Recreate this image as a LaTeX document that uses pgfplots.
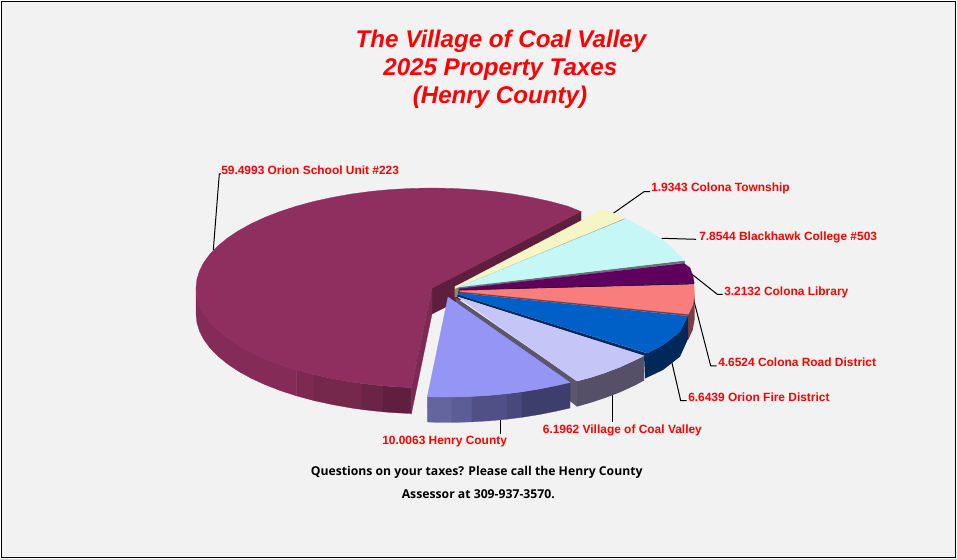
\documentclass[border=0pt]{standalone}
\usepackage{pgfplots}
\usepackage{fontspec}
\setmainfont{Liberation Sans}
\newfontfamily\notefont{Open Sans}
\pgfplotsset{compat=1.18}
\definecolor{bgc}{HTML}{F2F2F2}
\definecolor{labc}{HTML}{FF0000}
\definecolor{orion}{HTML}{8F2F5F}
\definecolor{orioncut}{HTML}{5E1E3E}
\definecolor{ora}{HTML}{842B57}
\definecolor{orb}{HTML}{7D2952}
\definecolor{orc}{HTML}{75274C}
\definecolor{ord}{HTML}{6B2346}
\definecolor{ore}{HTML}{601F3F}
\definecolor{orf}{HTML}{7C2A52}
\definecolor{yel}{HTML}{F5F5C5}
\definecolor{cya}{HTML}{C5F7F7}
\definecolor{pur}{HTML}{5F005F}
\definecolor{sal}{HTML}{FA7D7D}
\definecolor{blu}{HTML}{0060C8}
\definecolor{lav}{HTML}{C5C5F8}
\definecolor{hen}{HTML}{9595F5}
\definecolor{olive}{HTML}{8A8A78}
\definecolor{steel}{HTML}{687078}
\definecolor{darkp}{HTML}{3A0A3A}
\definecolor{brownr}{HTML}{7A3F42}
\definecolor{navy}{HTML}{002858}
\definecolor{lavs}{HTML}{555068}
\definecolor{lavc}{HTML}{5A566E}
\definecolor{hea}{HTML}{64649E}
\definecolor{heb}{HTML}{5C5C96}
\definecolor{hec}{HTML}{505086}
\definecolor{hed}{HTML}{48487A}
\definecolor{hee}{HTML}{3E3E6C}
\pgfplotsset{
  face/.style={fill=#1,draw=#1,line width=0.2pt,mark=none,forget plot},
  flat/.style={fill=#1,draw=none,mark=none,forget plot},
  lead/.style={draw=black,line width=0.75pt,mark=none,forget plot,line join=miter},
}
\newcommand{\lab}[3]{\node[anchor=base west,inner sep=0,text=labc,font=\fontsize{8.95}{11}\selectfont\bfseries] at (axis cs:#1,#2) {#3};}
\begin{document}
\begin{tikzpicture}
\begin{axis}[
  scale only axis,width=717.75pt,height=419.25pt,
  xmin=0,xmax=957,ymin=0,ymax=559,y dir=reverse,
  axis lines=none,clip=false,
]
% page and frame
\addplot[flat=white] coordinates {(0,0)(957,0)(957,559)(0,559)} --cycle;
\addplot[fill=bgc,draw=black,line width=0.8pt,mark=none,forget plot] coordinates {(1.5,1.5)(955.5,1.5)(955.5,557.5)(1.5,557.5)} --cycle;

% Orion School Unit: cut faces
\addplot[face=orioncut] coordinates {(432,288)(581,211.5)(581,238)(432,314)} --cycle;
\addplot[face=orf] coordinates {(432,288)(411.4,387.6)(411.4,413.6)(432,314)} --cycle;
% Orion side, stepped shades
\addplot[face=ora] coordinates {(196,288)(196.9,296.7)(199.6,305.4)(204,313.9)(210.2,322.2)(218.1,330.3)(227.6,338)(238.7,345.4)(251.2,352.3)(265.1,358.7)(280.3,364.6)(296.6,369.9)(296.6,395.9)(280.3,390.6)(265.1,384.7)(251.2,378.3)(238.7,371.4)(227.6,364)(218.1,356.3)(210.2,348.2)(204,339.9)(199.6,331.4)(196.9,322.7)(196,314)} --cycle;
\addplot[face=orb] coordinates {(296.6,369.9)(314,374.6)(314,400.6)(296.6,395.9)} --cycle;
\addplot[face=orc] coordinates {(314,374.6)(332.3,378.6)(351.3,382)(362,383.5)(362,409.5)(351.3,408)(332.3,404.6)(314,400.6)} --cycle;
\addplot[face=ord] coordinates {(362,383.5)(370.9,384.6)(383,385.8)(383,411.8)(370.9,410.6)(362,409.5)} --cycle;
\addplot[face=ore] coordinates {(383,385.8)(391,386.5)(411.4,387.6)(411.4,413.6)(391,412.5)(383,411.8)} --cycle;
% Orion top face
\addplot[face=orion] coordinates {(432,288)(411.4,387.6)(391,386.5)(370.9,384.6)(351.3,382)(332.3,378.6)(314,374.6)(296.6,369.9)(280.3,364.6)(265.1,358.7)(251.2,352.3)(238.7,345.4)(227.6,338)(218.1,330.3)(210.2,322.2)(204,313.9)(199.6,305.4)(196.9,296.7)(196,288)(196.9,279.3)(199.6,270.6)(204,262.1)(210.2,253.8)(218.1,245.7)(227.6,238)(238.7,230.6)(251.2,223.7)(265.1,217.3)(280.3,211.4)(296.6,206.1)(314,201.4)(332.3,197.4)(351.3,194)(370.9,191.4)(391,189.5)(411.4,188.4)(432,188)(452.6,188.4)(473,189.5)(493.1,191.4)(512.7,194)(531.7,197.4)(550,201.4)(567.4,206.1)(581,211.5)} --cycle;

% leader lines
\addplot[lead] coordinates {(213.3,250)(219.3,174)(221,174)};
\addplot[lead] coordinates {(613.3,213.3)(644,191.7)(650,191.7)};
\addplot[lead] coordinates {(661.7,238.3)(696,239.3)};
\addplot[lead] coordinates {(690,272.7)(717.3,294.3)(722.7,294.3)};
\addplot[lead] coordinates {(693.3,298.3)(710.7,366)(716.7,366)};
\addplot[lead] coordinates {(671.7,361.7)(680.7,400.7)(686.7,400.7)};
\addplot[lead] coordinates {(612.3,394)(612.3,421.7)};
\addplot[lead] coordinates {(500.3,419.3)(500.3,434)};

% centre strip
\addplot[flat=olive] coordinates {(454.5,286)(458,285)(458,297)(454.5,297)} --cycle;

% Colona Road District side
\addplot[flat=brownr] coordinates {(688,315)(692.7,305)(694.5,295)(694.5,320)(692.7,330)(688,340)} --cycle;
% Orion Fire District side
\addplot[flat=navy] coordinates {(688,315)(680,331.7)(663,345)(647,353.3)(644,355.5)(645,378.5)(663,370)(680,356.7)(688,339)} --cycle;
% Village of Coal Valley side and cut face
\addplot[flat=lavs] coordinates {(576.7,381.4)(590,377.7)(605,372.8)(620,367.1)(635,360.2)(644,355.3)(644,380.5)(635,385.4)(620,392.3)(605,398)(590,402.9)(576.7,406.7)} --cycle;
\addplot[flat=lavc] coordinates {(455,297)(577,381)(577,406.5)(460,318)} --cycle;

% grey strip under the yellow slice, and under the cyan slice
\addplot[flat=olive] coordinates {(624.3,218.3)(625.5,220)(458,291)(455,288.5)} --cycle;
\addplot[flat=steel] coordinates {(684.3,260.5)(685,262.8)(459,289.2)(459,287)} --cycle;

% top faces of the small slices
\addplot[face=yel] coordinates {(455,286.7)(603,209.3)(612,212.5)(624.3,218.3)(455,288.5)} --cycle;
\addplot[face=cya] coordinates {(459.3,287)(626,218.7)(640,226.5)(650,232)(662,239.5)(673,249)(684,260.5)} --cycle;
\addplot[face=pur] coordinates {(458.3,289)(684,263.3)(690,268)(693,276)(694.3,283.3)(460,290)} --cycle;
\addplot[flat=darkp] coordinates {(460,289.6)(693.8,283)(694,284.6)(460,290.8)} --cycle;
\addplot[flat=brownr] coordinates {(460,291)(688.3,313.5)(688.3,315.9)(459.3,292.9)} --cycle;
\addplot[face=sal] coordinates {(460,290.7)(693.8,284.6)(694.5,295)(692.7,305)(688.3,314.2)(460,291.5)} --cycle;
\addplot[flat=navy] coordinates {(458,294.5)(647,353.3)(644,355.9)(457,296.5)} --cycle;
\addplot[face=blu] coordinates {(459,293)(687.7,316)(680,331.7)(663,345)(647.3,353.1)(458,294.5)} --cycle;
\addplot[face=lav] coordinates {(458,297)(644,355.8)(635,360.2)(620,367.1)(605,372.8)(590,377.7)(576.7,381)(459,297.8)} --cycle;

% Henry County side, stepped shades
\addplot[face=hea] coordinates {(427.3,396.7)(440,397)(452,397)(452,422.5)(440,422.5)(427.5,422)} --cycle;
\addplot[face=heb] coordinates {(452,397)(472,396.4)(472,421.9)(452,422.5)} --cycle;
\addplot[face=hec] coordinates {(472,396.4)(490,395.3)(507,393.7)(507,419.2)(490,420.8)(472,421.9)} --cycle;
\addplot[face=hed] coordinates {(507,393.7)(522,391.8)(522,417.3)(507,419.2)} --cycle;
\addplot[face=hee] coordinates {(522,391.8)(540,388.9)(555,385.9)(570,382.5)(570,408)(555,411.4)(540,414.4)(522,417.3)} --cycle;
% Henry County top face
\addplot[face=hen] coordinates {(448,297)(570,382.5)(555,385.9)(540,388.9)(522,391.8)(507,393.7)(490,395.3)(472,396.4)(452,397)(440,397)(427.3,396.7)} --cycle;

% texts
\node[anchor=base,inner sep=0,text=labc,font=\fontsize{18.1}{22}\selectfont\bfseries\itshape] at (axis cs:501,48) {The Village of Coal Valley};
\node[anchor=base,inner sep=0,text=labc,font=\fontsize{18.1}{22}\selectfont\bfseries\itshape] at (axis cs:500.3,75.7) {2025 Property Taxes};
\node[anchor=base,inner sep=0,text=labc,font=\fontsize{18.1}{22}\selectfont\bfseries\itshape] at (axis cs:500,104) {(Henry County)};
\lab{221}{174.5}{59.4993 Orion School Unit \#223}
\lab{651}{191.8}{1.9343 Colona Township}
\lab{699}{240.2}{7.8544 Blackhawk College \#503}
\lab{724}{295.2}{3.2132 Colona Library}
\lab{718}{366.2}{4.6524 Colona Road District}
\lab{688}{401.2}{6.6439 Orion Fire District}
\lab{542.6}{433.2}{6.1962 Village of Coal Valley}
\lab{382}{444.8}{10.0063 Henry County}
\node[anchor=base,inner sep=0,font=\notefont\fontsize{9.15}{11}\selectfont\bfseries] at (axis cs:476.7,475) {Questions on your taxes? Please call the Henry County};
\node[anchor=base,inner sep=0,font=\notefont\fontsize{9.15}{11}\selectfont\bfseries] at (axis cs:478.3,498.5) {Assessor at 309-937-3570.};
\end{axis}
\end{tikzpicture}
\end{document}
